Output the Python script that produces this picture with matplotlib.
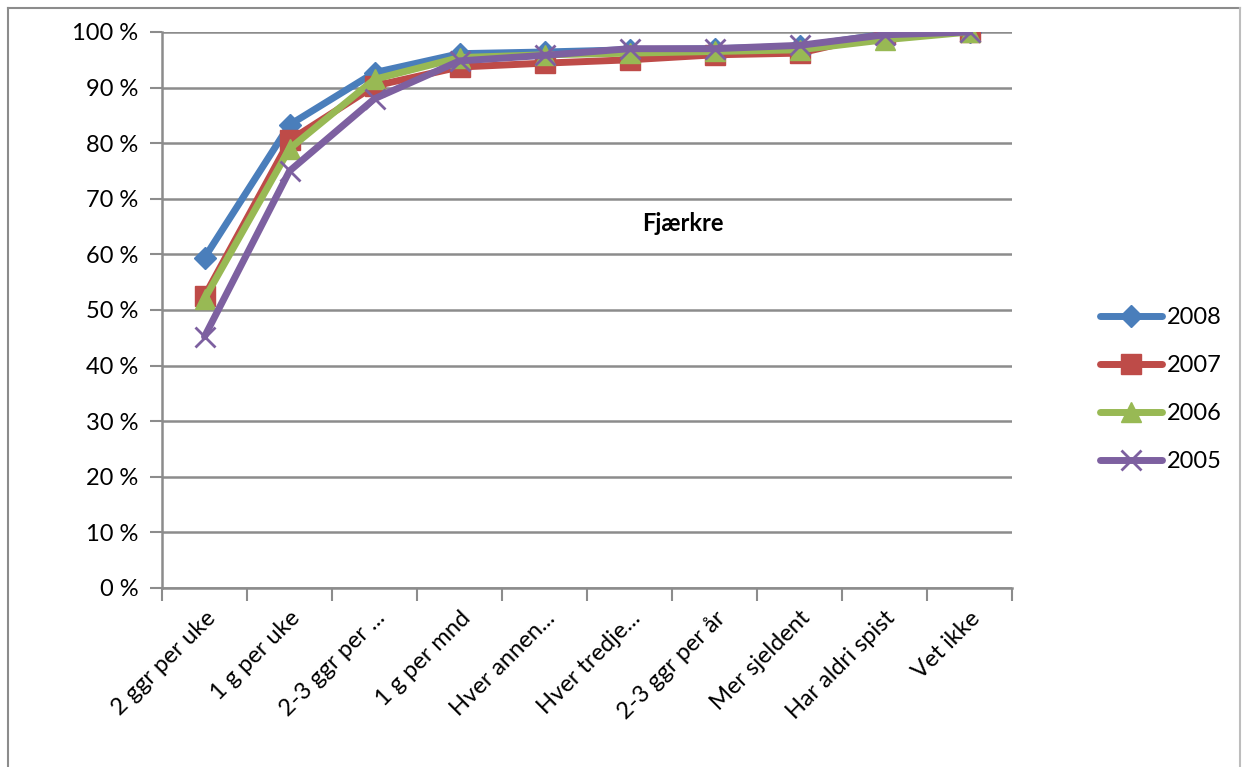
import matplotlib
matplotlib.use("Agg")

import matplotlib.pyplot as plt
from matplotlib.ticker import FixedLocator, FuncFormatter
import numpy as np

plt.rcParams['font.family'] = ['Lato', 'DejaVu Sans']

categories = ["2 ggr per uke", "1 g per uke", "2-3 ggr per ...", "1 g per mnd",
              "Hver annen...", "Hver tredje...", "2-3 ggr per år", "Mer sjeldent",
              "Har aldri spist", "Vet ikke"]

years = ["2008", "2007", "2006", "2005"]
v2008 = [59.4, 83.3, 92.7, 96.1, 96.4, 96.8, 97.0, 97.4, 99.6, 100]
v2007 = [52.5, 80.5, 90.3, 93.7, 94.4, 95.0, 95.9, 96.2, 99.7, 100]
v2006 = [52.0, 79.0, 91.5, 95.4, 95.9, 96.2, 96.5, 96.8, 98.6, 100]
v2005 = [45.2, 75.0, 88.0, 94.8, 95.8, 97.0, 97.0, 97.6, 99.5, 100]

colors = ["#4A7EBB", "#BE4B48", "#98B954", "#7D60A0"]
markers = ["D", "s", "^", "x"]
msizes = [11, 15, 14, 15]

fig = plt.figure(figsize=(12.42, 7.67), dpi=100)
ax = fig.add_axes([162 / 1242, 179 / 767, 850 / 1242, 556 / 767])

# outer frame (left, top, right only)
fig.add_artist(plt.Line2D([8 / 1242, 8 / 1242], [0, 759 / 767], color="#8c8c8c", lw=1.5))
fig.add_artist(plt.Line2D([8 / 1242, 1240 / 1242], [759 / 767, 759 / 767], color="#8c8c8c", lw=1.5))
fig.add_artist(plt.Line2D([1240 / 1242, 1240 / 1242], [0, 759 / 767], color="#bdbdbd", lw=1.5))

x = np.arange(len(categories))
for vals, yr, c, m, ms in zip([v2008, v2007, v2006, v2005], years, colors, markers, msizes):
    kw = dict(markeredgewidth=2) if m == "x" else dict(markeredgecolor=c)
    ax.plot(x, vals, color=c, lw=5, marker=m, markersize=ms, label=yr,
            solid_capstyle="round", solid_joinstyle="round", **kw)

ax.set_xlim(-0.5, len(categories) - 0.5)
ax.set_ylim(0, 100)
ax.yaxis.set_major_locator(FixedLocator(np.arange(0, 101, 10)))
ax.yaxis.set_major_formatter(FuncFormatter(lambda v, p: f"{int(v)} %"))
ax.grid(axis="y", color="#8c8c8c", lw=1.8)
ax.set_axisbelow(True)

ax.set_xticks(x)
ax.set_xticklabels(categories, rotation=45, ha="right", va="top", rotation_mode="anchor")
ax.set_xticks(np.arange(-0.5, len(categories)), minor=True)
ax.tick_params(axis="x", which="major", length=0, pad=14, labelsize=17)
ax.tick_params(axis="x", which="minor", length=9, width=1.5, color="#8c8c8c")
ax.tick_params(axis="y", length=9, width=1.5, color="#8c8c8c", pad=8, labelsize=17)

for s in ["top", "right"]:
    ax.spines[s].set_visible(False)
for s in ["left", "bottom"]:
    ax.spines[s].set_color("#8c8c8c")
    ax.spines[s].set_linewidth(1.8)

ax.text(0.613, 0.655, "Fjærkre", transform=ax.transAxes, ha="center", va="center",
        fontsize=17, fontweight="bold")

ax.legend(loc="center left", bbox_to_anchor=(1.093, 0.357), frameon=False,
          fontsize=17, handlelength=2.6, labelspacing=1.15, handletextpad=0.2,
          borderaxespad=0)

fig.savefig("out.png", dpi=100)
